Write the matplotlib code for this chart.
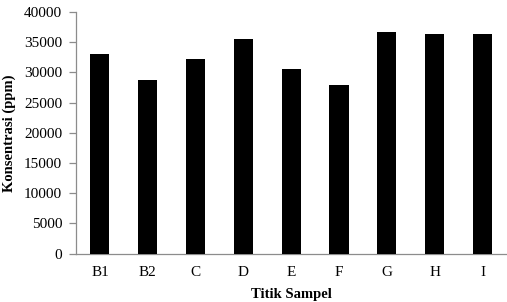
import numpy as np
from matplotlib import pyplot as plt

# Data
titik = ['B1', 'B2', 'C', 'D', 'E', 'F', 'G', 'H', 'I']
konsentrasi = [33000, 28800, 32300, 35600, 30600, 27850, 36650, 36400, 36300]
yticks = np.arange(0, 40001, 5000)

plt.rcParams['font.family'] = ['Liberation Serif', 'DejaVu Serif']

fig = plt.figure(figsize=(5.07, 3.02), dpi=100)
ax = fig.add_axes([0.1499, 0.16, 0.849, 0.8003])

x = np.arange(len(titik))
ax.bar(x, konsentrasi, width=0.4, color='black', zorder=3)

ax.set_xlim(-0.5, len(titik) - 0.5)
ax.set_ylim(0, 40000)
ax.set_yticks(yticks)
ax.set_xticks(x)
ax.set_xticklabels(titik)

for s in ['top', 'right']:
    ax.spines[s].set_visible(False)
for s in ['left', 'bottom']:
    ax.spines[s].set_color('#8c8c8c')
    ax.spines[s].set_linewidth(0.9)

ax.tick_params(axis='y', length=5, width=0.9, color='#8c8c8c', labelsize=11, pad=5)
ax.tick_params(axis='x', length=0, labelsize=11, pad=9)

ax.set_xlabel('Titik Sampel', fontsize=10.5, fontweight='bold', labelpad=6)
ax.set_ylabel('Konsentrasi (ppm)', fontsize=10.5, fontweight='bold', labelpad=6)

fig.savefig('out.png', dpi=100)
